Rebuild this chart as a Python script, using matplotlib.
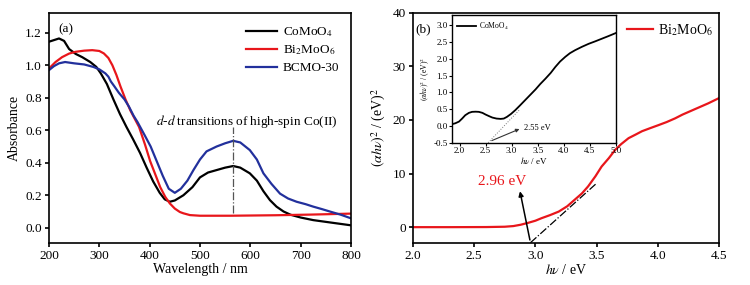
import matplotlib
matplotlib.use("Agg")
import matplotlib.pyplot as plt
import numpy as np

plt.rcParams['font.family'] = ['Liberation Serif', 'DejaVu Serif']
plt.rcParams['mathtext.fontset'] = 'stix'

# ---- Panel (a) data ----
wl_black = [200, 210, 220, 230, 240, 253, 266, 282, 294, 303, 315, 328, 341, 354, 367, 381, 394, 407, 420,
            430, 440, 450, 467, 485, 500, 516, 533, 550, 566, 580, 599, 613, 626, 639, 652, 666, 680, 700,
            725, 760, 800]
ab_black = [1.145, 1.155, 1.165, 1.15, 1.10, 1.07, 1.05, 1.02, 0.99, 0.95, 0.885, 0.79, 0.70, 0.62, 0.545, 0.46,
            0.37, 0.285, 0.215, 0.175, 0.16, 0.168, 0.20, 0.25, 0.31, 0.34, 0.355, 0.37, 0.38, 0.37, 0.335,
            0.29, 0.225, 0.17, 0.13, 0.10, 0.08, 0.063, 0.047, 0.032, 0.015]

wl_red = [200, 213, 226, 240, 253, 270, 286, 300, 309, 318, 326, 334, 342, 352, 362, 379, 391, 401, 411, 421,
          431, 440, 450, 460, 467, 480, 500, 560, 650, 720, 800]
ab_red = [0.98, 1.02, 1.05, 1.072, 1.083, 1.09, 1.093, 1.088, 1.073, 1.045, 1.0, 0.94, 0.87, 0.79, 0.72, 0.62,
          0.51, 0.41, 0.33, 0.25, 0.19, 0.15, 0.118, 0.097, 0.089, 0.078, 0.074, 0.074, 0.077, 0.081, 0.087]

wl_blue = [200, 210, 220, 232, 250, 270, 288, 300, 312, 318, 323, 330, 339, 350, 359, 368, 376, 390, 402, 414,
           426, 438, 450, 462, 475, 487, 500, 513, 523, 533, 550, 566, 580, 599, 613, 626, 642, 659, 675, 692,
           710, 725, 742, 758, 780, 800]
ab_blue = [0.97, 0.995, 1.012, 1.02, 1.012, 1.005, 0.99, 0.975, 0.95, 0.93, 0.90, 0.87, 0.83, 0.79, 0.745, 0.69,
           0.65, 0.57, 0.50, 0.41, 0.32, 0.24, 0.215, 0.24, 0.29, 0.355, 0.42, 0.47, 0.485, 0.50, 0.52, 0.535,
           0.525, 0.478, 0.42, 0.335, 0.27, 0.21, 0.18, 0.16, 0.145, 0.13, 0.115, 0.10, 0.08, 0.058]

labels_a = ['CoMoO$_4$', 'Bi$_2$MoO$_6$', 'BCMO-30']

# ---- Panel (b) data ----
hv_bi = [2.0, 2.3, 2.6, 2.75, 2.82, 2.88, 2.94, 3.0, 3.05, 3.12, 3.19, 3.26, 3.32, 3.38, 3.43, 3.49, 3.54,
         3.60, 3.65, 3.70, 3.76, 3.82, 3.87, 3.94, 4.0, 4.07, 4.14, 4.2, 4.27, 4.34, 4.41, 4.5]
ahv_bi = [0.0, 0.0, 0.02, 0.08, 0.2, 0.45, 0.8, 1.2, 1.67, 2.25, 2.9, 3.9, 5.1, 6.3, 7.6, 9.5, 11.3,
          12.9, 14.4, 15.5, 16.6, 17.3, 17.9, 18.5, 19.0, 19.6, 20.3, 21.0, 21.7, 22.4, 23.1, 24.1]

hv_co = [1.85, 1.92, 1.99, 2.05, 2.11, 2.18, 2.24, 2.31, 2.37, 2.44, 2.5, 2.57, 2.63, 2.71, 2.79, 2.85, 2.91,
         2.99, 3.07, 3.16, 3.26, 3.36, 3.46, 3.55, 3.65, 3.75, 3.84, 3.93, 4.03, 4.12, 4.22, 4.35, 4.48,
         4.6, 4.73, 4.86, 5.0]
ahv_co = [0.05, 0.08, 0.13, 0.22, 0.32, 0.39, 0.42, 0.425, 0.42, 0.39, 0.34, 0.29, 0.25, 0.22, 0.21, 0.22, 0.27,
          0.36, 0.47, 0.61, 0.77, 0.93, 1.09, 1.25, 1.41, 1.58, 1.76, 1.92, 2.06, 2.17, 2.26, 2.36, 2.45,
          2.52, 2.6, 2.68, 2.77]

gap_bi = 2.96
gap_co = 2.55

black = '#000000'
red = '#e8161b'
blue = '#22309c'

fig = plt.figure(figsize=(7.5, 2.85), dpi=100)

def style(ax, fs=9.5, lw=1.2):
    for s in ax.spines.values():
        s.set_linewidth(lw)
    ax.tick_params(direction='out', length=3, width=lw, labelsize=fs, pad=2)

# ---------- (a) ----------
axa = fig.add_axes([0.0653, 0.1484, 0.4027, 0.805])
axa.plot(wl_black, ab_black, color=black, lw=1.6, label=labels_a[0])
axa.plot(wl_red, ab_red, color=red, lw=1.6, label=labels_a[1])
axa.plot(wl_blue, ab_blue, color=blue, lw=1.6, label=labels_a[2])
axa.set_xlim(200, 800)
axa.set_ylim(-0.092, 1.32)
axa.set_xticks([200, 300, 400, 500, 600, 700, 800])
axa.set_yticks([0.0, 0.2, 0.4, 0.6, 0.8, 1.0, 1.2])
axa.yaxis.set_major_formatter(matplotlib.ticker.FormatStrFormatter('%.1f'))
style(axa)
axa.set_xlabel('Wavelength / nm', fontsize=10, labelpad=1)
axa.set_ylabel('Absorbance', fontsize=10, labelpad=3)
axa.plot([566, 566], [0.09, 0.62], color='#555555', lw=0.9, ls='-.')
axa.text(593, 0.655, '$\\it{d}$-$\\it{d}$ transitions of high-spin Co(II)', fontsize=9.5,
         ha='center', va='center')
axa.text(0.03, 0.955, '(a)', transform=axa.transAxes, fontsize=9.5, ha='left', va='top')
axa.legend(loc='upper right', bbox_to_anchor=(1.0, 1.0), frameon=False, fontsize=9.5,
           handlelength=2.4, handletextpad=0.4, labelspacing=0.35, borderaxespad=0.5)

# ---------- (b) ----------
axb = fig.add_axes([0.5503, 0.1484, 0.4088, 0.807])
axb.plot(hv_bi, ahv_bi, color=red, lw=1.6, label='Bi$_2$MoO$_6$')
axb.set_xlim(2.0, 4.5)
axb.set_ylim(-2.9, 40)
axb.set_xticks([2.0, 2.5, 3.0, 3.5, 4.0, 4.5])
axb.set_yticks([0, 10, 20, 30, 40])
axb.xaxis.set_major_formatter(matplotlib.ticker.FormatStrFormatter('%.1f'))
style(axb)
axb.set_xlabel('$h\\nu$ / eV', fontsize=10, labelpad=1)
axb.set_ylabel('$(\\alpha h\\nu)^2$ / (eV)$^2$', fontsize=10, labelpad=3)
# tangent line
axb.plot([gap_bi, 3.5], [-2.9, 8.2], color=black, lw=0.9, ls='-.')
axb.annotate('', xy=(2.87, 7.2), xytext=(gap_bi, -2.9),
             arrowprops=dict(arrowstyle='-|>', color=black, lw=1.1, mutation_scale=7))
axb.text(2.73, 8.6, '%.2f eV' % gap_bi, color=red, fontsize=11, ha='center', va='center')
axb.legend(loc='center left', bbox_to_anchor=(0.698, 0.925), frameon=False, fontsize=10,
           handlelength=1.9, handletextpad=0.36, borderaxespad=0.0, borderpad=0.0)
axb.text(0.01, 0.955, '(b)', transform=axb.transAxes, fontsize=9.5, ha='left', va='top')

# inset
axi = fig.add_axes([0.6023, 0.4993, 0.2187, 0.447])
axi.plot(hv_co, ahv_co, color=black, lw=1.3, label='CoMoO$_4$')
axi.set_xlim(1.85, 5.0)
axi.set_ylim(-0.5, 3.3)
axi.set_xticks([2.0, 2.5, 3.0, 3.5, 4.0, 4.5, 5.0])
axi.set_yticks([-0.5, 0.0, 0.5, 1.0, 1.5, 2.0, 2.5, 3.0])
axi.xaxis.set_major_formatter(matplotlib.ticker.FormatStrFormatter('%.1f'))
axi.yaxis.set_major_formatter(matplotlib.ticker.FormatStrFormatter('%.1f'))
for s in axi.spines.values():
    s.set_linewidth(1.0)
axi.tick_params(direction='out', length=2, width=0.8, labelsize=6.5, pad=1)
axi.set_xlabel('$h\\nu$ / eV', fontsize=6.5, labelpad=0)
axi.set_ylabel('$(\\alpha h\\nu)^2$ / (eV)$^2$', fontsize=5.5, labelpad=1)
axi.plot([gap_co, 3.15], [-0.5, 0.48], color='#777777', lw=0.7, ls=':')
axi.annotate('', xy=(3.2, -0.06), xytext=(gap_co + 0.02, -0.47),
             arrowprops=dict(arrowstyle='-|>', color='#333333', lw=0.8, mutation_scale=5))
axi.text(3.24, -0.05, '%.2f eV' % gap_co, fontsize=6, ha='left', va='center')
axi.legend(loc='upper left', frameon=False, fontsize=5.5, handlelength=2.5,
           handletextpad=0.4, borderaxespad=0.3)

fig.savefig('out.png', dpi=100)
